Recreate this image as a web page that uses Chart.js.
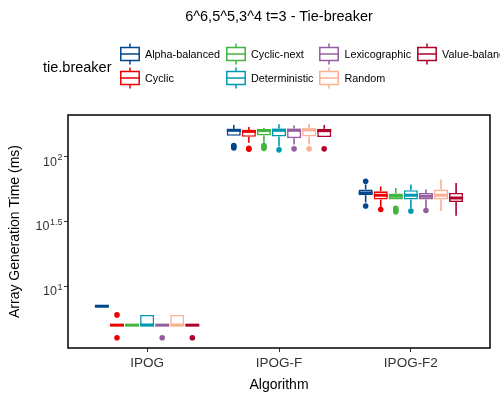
<!DOCTYPE html>
<html><head><meta charset="utf-8">
<script src="https://cdn.jsdelivr.net/npm/chart.js@4"></script>
<style>
html,body{margin:0;padding:0;background:#fff;overflow:hidden}
#wrap{position:relative;width:500px;height:400px;overflow:hidden;font-family:"Liberation Sans",Arial,sans-serif;color:#000}
#chart{position:absolute;left:0;top:0}
#title{position:absolute;top:7px;left:279px;transform:translateX(-50%);font-size:14.5px;white-space:nowrap;line-height:18px}
#legTitle{position:absolute;left:43px;top:58px;font-size:14.5px;line-height:18px}
#legend{position:absolute;left:120px;top:42px;display:grid;grid-auto-flow:column;grid-template-rows:24px 24px;column-gap:6px;white-space:nowrap}
.item{display:flex;align-items:center;font-size:10.8px;height:24px}
.item svg{margin-right:5px;flex:none}
</style></head><body>
<div id="wrap"><canvas id="chart" width="500" height="400"></canvas>
<div id="title">6^6,5^5,3^4 t=3 - Tie-breaker</div>
<div id="legTitle">tie.breaker</div>
<div id="legend"></div></div>
<script>
const algorithms = ['IPOG', 'IPOG-F', 'IPOG-F2'];
const tieBreakers = ['Alpha-balanced', 'Cyclic', 'Cyclic-next', 'Deterministic', 'Lexicographic', 'Random', 'Value-balanced'];

// [lower whisker, Q1, median, Q3, upper whisker] per algorithm (ms)
const alphaBalanced = [[7, 7, 7, 7, 7], [145, 145, 160, 164, 176], [44.3, 50.4, 52.5, 55.7, 61]];
const cyclic        = [[5, 5, 5, 5, 5], [128, 142.5, 157, 161, 170], [40.2, 46.7, 50.4, 54, 59]];
const cyclicNext    = [[5, 5, 5, 5, 5], [128, 146, 159, 164, 167], [46.7, 46.7, 49.5, 51.9, 57.4]];
const deterministic = [[5, 5, 5, 6, 6], [120, 143, 160, 165, 178], [40.2, 46.7, 50.4, 55.1, 61]];
const lexicographic = [[5, 5, 5, 5, 5], [124, 139, 160, 165, 174], [40.2, 46.7, 49.5, 52.5, 55.7]];
const random        = [[5, 5, 5, 6, 6], [124, 143, 161, 166, 179], [38, 46.7, 50.4, 55.7, 66.6]];
const valueBalanced = [[5, 5, 5, 5, 5], [142, 142, 159, 164, 176], [35, 44.7, 48, 52.5, 62.6]];

// outliers per algorithm (ms)
const alphaBalancedOut = [[], [117, 119.5, 122], [41.6, 64.5]];
const cyclicOut        = [[4, 6], [114, 116], [39.1]];
const cyclicNextOut    = [[], [116, 119, 122], [37.5, 38.5, 40]];
const deterministicOut = [[], [113], [38]];
const lexicographicOut = [[4], [115], [38.4]];
const randomOut        = [[], [115], []];
const valueBalancedOut = [[4], [115], []];

const yTickValues = [10, 31.6227766, 100];
const yTickBases = ['10', '10', '10'];
const yTickExponents = ['1', '1.5', '2'];

const palette = ['#00468B', '#ED0000', '#42B540', '#0099B4', '#925E9F', '#FDAF91', '#AD002A'];
const summaries = [alphaBalanced, cyclic, cyclicNext, deterministic, lexicographic, random, valueBalanced];
const outliers = [alphaBalancedOut, cyclicOut, cyclicNextOut, deterministicOut, lexicographicOut, randomOut, valueBalancedOut];

const FONT = '"Liberation Sans", Arial, sans-serif';
Chart.defaults.font.family = FONT;

// HTML legend
const leg = document.getElementById('legend');
tieBreakers.forEach((name, d) => {
  const c = palette[d];
  const it = document.createElement('div');
  it.className = 'item';
  it.innerHTML = '<svg width="20" height="22" viewBox="0 0 20 22">' +
    '<line x1="10" y1="0.5" x2="10" y2="21.5" stroke="' + c + '" stroke-width="1.5"/>' +
    '<rect x="0.8" y="4.5" width="18.4" height="13" fill="#fff" stroke="' + c + '" stroke-width="1.5"/>' +
    '<line x1="0.8" y1="11" x2="19.2" y2="11" stroke="' + c + '" stroke-width="1.5"/></svg>' +
    '<span>' + name + '</span>';
  leg.appendChild(it);
});

const datasets = tieBreakers.map((name, d) => ({
  label: name,
  data: summaries[d].map((s, i) => ({ x: i, y: [s[1], s[3]] })),
  backgroundColor: '#ffffff',
  borderColor: palette[d],
  borderWidth: 1.6,
  borderSkipped: false,
  categoryPercentage: 0.8,
  barPercentage: 0.93
}));

const boxPlugin = {
  id: 'boxParts',
  beforeDatasetsDraw(chart) {
    const ctx = chart.ctx, ys = chart.scales.y;
    ctx.save();
    chart.data.datasets.forEach((ds, d) => {
      chart.getDatasetMeta(d).data.forEach((bar, i) => {
        const s = summaries[d][i];
        const p = bar.getProps(['x', 'width'], true);
        ctx.strokeStyle = palette[d];
        ctx.lineWidth = 1.6;
        ctx.beginPath();
        ctx.moveTo(p.x, ys.getPixelForValue(s[3])); ctx.lineTo(p.x, ys.getPixelForValue(s[4]));
        ctx.moveTo(p.x, ys.getPixelForValue(s[1])); ctx.lineTo(p.x, ys.getPixelForValue(s[0]));
        ctx.stroke();
        ctx.fillStyle = palette[d];
        outliers[d][i].forEach(v => {
          ctx.beginPath();
          ctx.arc(p.x, ys.getPixelForValue(v), 2.8, 0, Math.PI * 2);
          ctx.fill();
        });
      });
    });
    ctx.restore();
  },
  afterDatasetsDraw(chart) {
    const ctx = chart.ctx, ys = chart.scales.y;
    ctx.save();
    chart.data.datasets.forEach((ds, d) => {
      chart.getDatasetMeta(d).data.forEach((bar, i) => {
        const s = summaries[d][i];
        const p = bar.getProps(['x', 'width'], true);
        const py = ys.getPixelForValue(s[2]);
        ctx.strokeStyle = palette[d];
        ctx.lineWidth = 3;
        ctx.beginPath();
        ctx.moveTo(p.x - p.width / 2, py); ctx.lineTo(p.x + p.width / 2, py);
        ctx.stroke();
      });
    });
    ctx.restore();
  },
  afterDraw(chart) {
    const ctx = chart.ctx, a = chart.chartArea, ys = chart.scales.y;
    ctx.save();
    ctx.strokeStyle = '#000';
    ctx.lineWidth = 1.5;
    ctx.strokeRect(a.left, a.top, a.right - a.left, a.bottom - a.top);
    ctx.fillStyle = '#333';
    ctx.textBaseline = 'alphabetic';
    ctx.textAlign = 'left';
    yTickValues.forEach((v, k) => {
      const py = ys.getPixelForValue(v);
      ctx.font = '9px ' + FONT;
      const ew = ctx.measureText(yTickExponents[k]).width;
      ctx.font = '12.5px ' + FONT;
      const bw = ctx.measureText(yTickBases[k]).width;
      const right = a.left - 5.5;
      const x0 = right - ew - bw - 0.5;
      ctx.fillText(yTickBases[k], x0, py + 9);
      ctx.font = '9px ' + FONT;
      ctx.fillText(yTickExponents[k], x0 + bw + 0.5, py + 3.5);
    });
    ctx.restore();
  }
};

new Chart(document.getElementById('chart'), {
  type: 'bar',
  data: { datasets },
  plugins: [boxPlugin],
  options: {
    responsive: false,
    animation: false,
    events: [],
    layout: { padding: { top: 115, right: 10, bottom: 2, left: 0 } },
    plugins: { legend: { display: false }, tooltip: { enabled: false }, title: { display: false } },
    scales: {
      x: {
        type: 'linear', min: -0.6, max: 2.6, offset: false,
        afterBuildTicks: s => { s.ticks = algorithms.map((_, i) => ({ value: i })); },
        ticks: { callback: v => algorithms[v], font: { size: 13.5 }, color: '#333', padding: 3, maxRotation: 0, autoSkip: false },
        grid: { offset: false, drawOnChartArea: false, tickLength: 4, color: '#333' },
        border: { display: false },
        title: { display: true, text: 'Algorithm', font: { size: 14 }, color: '#000', padding: { top: 3, bottom: 4 } }
      },
      y: {
        type: 'logarithmic', min: 3.33, max: 210,
        afterBuildTicks: s => { s.ticks = yTickValues.map(v => ({ value: v })); },
        afterFit: s => { s.width = 68; },
        ticks: { callback: () => '', font: { size: 12.5 } },
        grid: { drawOnChartArea: false, tickLength: 4, color: '#333' },
        border: { display: false },
        title: { display: true, text: 'Array Generation Time (ms)', font: { size: 14 }, color: '#000', padding: { top: 7, bottom: 0 } }
      }
    }
  }
});
</script>
</body></html>
